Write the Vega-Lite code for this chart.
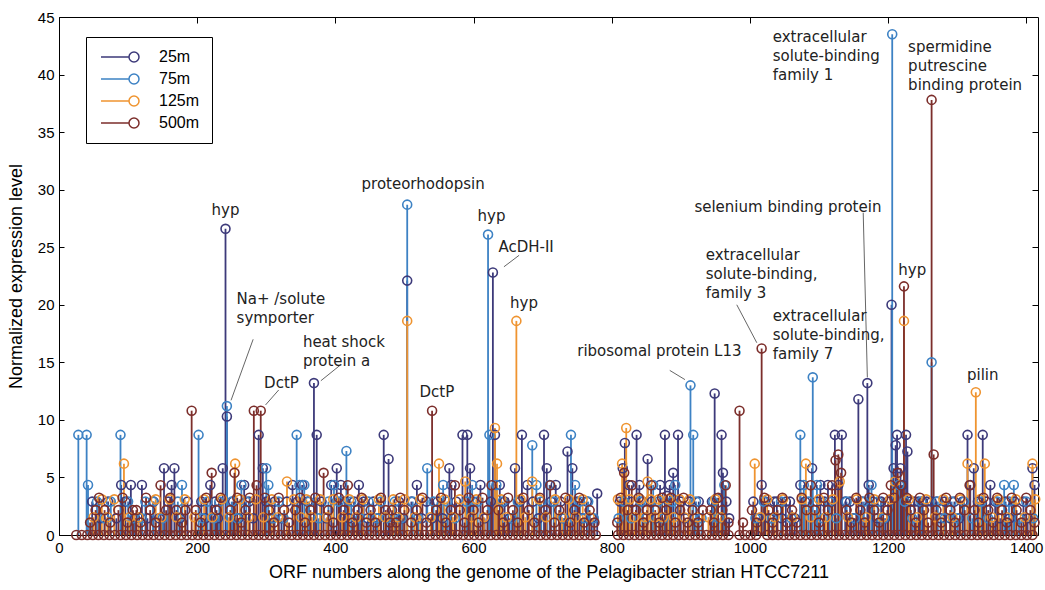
{
"$schema":"https://vega.github.io/schema/vega-lite/v6.json",
"width":979,"height":518,
"autosize":{"type":"none"},
"padding":{"left":59,"top":17,"right":7,"bottom":55},
"background":"white",
"config":{
 "view":{"stroke":"black","strokeWidth":1},
 "axis":{"grid":false,"domainColor":"black","tickColor":"black","labelColor":"black","titleColor":"black","labelFont":"Liberation Sans","titleFont":"Liberation Sans","labelFontSize":15,"titleFontSize":18,"titleFontWeight":"normal","tickSize":-5}
},
"datasets":{
"stems":[
{"orf":48,"level":2.9,"depth":"25m"},{"orf":60,"level":1.45,"depth":"25m"},{"orf":71,"level":2.9,"depth":"25m"},{"orf":83,"level":1.45,"depth":"25m"},{"orf":90,"level":4.35,"depth":"25m"},{"orf":96,"level":2.9,"depth":"25m"},{"orf":104,"level":4.35,"depth":"25m"},{"orf":110,"level":1.45,"depth":"25m"},{"orf":120,"level":4.35,"depth":"25m"},{"orf":128,"level":1.45,"depth":"25m"},{"orf":137,"level":2.9,"depth":"25m"},{"orf":145,"level":1.45,"depth":"25m"},{"orf":152,"level":5.8,"depth":"25m"},{"orf":158,"level":2.9,"depth":"25m"},{"orf":163,"level":4.35,"depth":"25m"},{"orf":167,"level":5.8,"depth":"25m"},{"orf":175,"level":1.45,"depth":"25m"},{"orf":186,"level":2.9,"depth":"25m"},{"orf":206,"level":2.9,"depth":"25m"},{"orf":212,"level":1.45,"depth":"25m"},{"orf":219,"level":4.35,"depth":"25m"},{"orf":226,"level":2.9,"depth":"25m"},{"orf":230,"level":1.45,"depth":"25m"},{"orf":237,"level":5.8,"depth":"25m"},{"orf":241,"level":26.6,"depth":"25m"},{"orf":243,"level":10.3,"depth":"25m"},{"orf":252,"level":2.9,"depth":"25m"},{"orf":260,"level":1.45,"depth":"25m"},{"orf":268,"level":4.35,"depth":"25m"},{"orf":275,"level":2.9,"depth":"25m"},{"orf":281,"level":1.45,"depth":"25m"},{"orf":289,"level":8.7,"depth":"25m"},{"orf":295,"level":5.8,"depth":"25m"},{"orf":300,"level":2.9,"depth":"25m"},{"orf":306,"level":1.45,"depth":"25m"},{"orf":312,"level":2.9,"depth":"25m"},{"orf":322,"level":1.45,"depth":"25m"},{"orf":330,"level":2.9,"depth":"25m"},{"orf":338,"level":4.35,"depth":"25m"},{"orf":345,"level":2.9,"depth":"25m"},{"orf":352,"level":4.35,"depth":"25m"},{"orf":360,"level":2.9,"depth":"25m"},{"orf":369,"level":13.2,"depth":"25m"},{"orf":373,"level":8.7,"depth":"25m"},{"orf":380,"level":2.9,"depth":"25m"},{"orf":387,"level":1.45,"depth":"25m"},{"orf":394,"level":4.35,"depth":"25m"},{"orf":402,"level":5.8,"depth":"25m"},{"orf":408,"level":4.35,"depth":"25m"},{"orf":414,"level":2.9,"depth":"25m"},{"orf":420,"level":1.45,"depth":"25m"},{"orf":427,"level":2.9,"depth":"25m"},{"orf":434,"level":4.35,"depth":"25m"},{"orf":441,"level":2.9,"depth":"25m"},{"orf":447,"level":1.45,"depth":"25m"},{"orf":455,"level":2.9,"depth":"25m"},{"orf":462,"level":1.45,"depth":"25m"},{"orf":470,"level":8.7,"depth":"25m"},{"orf":477,"level":6.6,"depth":"25m"},{"orf":485,"level":1.45,"depth":"25m"},{"orf":492,"level":2.9,"depth":"25m"},{"orf":498,"level":1.45,"depth":"25m"},{"orf":504,"level":22.1,"depth":"25m"},{"orf":510,"level":2.9,"depth":"25m"},{"orf":518,"level":4.35,"depth":"25m"},{"orf":525,"level":1.45,"depth":"25m"},{"orf":532,"level":2.9,"depth":"25m"},{"orf":540,"level":1.45,"depth":"25m"},{"orf":548,"level":2.9,"depth":"25m"},{"orf":555,"level":1.45,"depth":"25m"},{"orf":565,"level":5.8,"depth":"25m"},{"orf":568,"level":4.35,"depth":"25m"},{"orf":575,"level":2.9,"depth":"25m"},{"orf":584,"level":8.7,"depth":"25m"},{"orf":591,"level":8.7,"depth":"25m"},{"orf":595,"level":5.8,"depth":"25m"},{"orf":600,"level":2.9,"depth":"25m"},{"orf":610,"level":4.35,"depth":"25m"},{"orf":616,"level":1.45,"depth":"25m"},{"orf":625,"level":2.9,"depth":"25m"},{"orf":628,"level":22.8,"depth":"25m"},{"orf":631,"level":8.7,"depth":"25m"},{"orf":638,"level":4.35,"depth":"25m"},{"orf":645,"level":2.9,"depth":"25m"},{"orf":652,"level":1.45,"depth":"25m"},{"orf":660,"level":5.8,"depth":"25m"},{"orf":667,"level":2.9,"depth":"25m"},{"orf":670,"level":8.7,"depth":"25m"},{"orf":678,"level":4.35,"depth":"25m"},{"orf":686,"level":2.9,"depth":"25m"},{"orf":694,"level":1.45,"depth":"25m"},{"orf":702,"level":8.7,"depth":"25m"},{"orf":706,"level":5.8,"depth":"25m"},{"orf":712,"level":2.9,"depth":"25m"},{"orf":719,"level":4.35,"depth":"25m"},{"orf":726,"level":2.9,"depth":"25m"},{"orf":731,"level":1.45,"depth":"25m"},{"orf":736,"level":7.25,"depth":"25m"},{"orf":743,"level":5.8,"depth":"25m"},{"orf":750,"level":2.9,"depth":"25m"},{"orf":757,"level":1.45,"depth":"25m"},{"orf":764,"level":2.9,"depth":"25m"},{"orf":771,"level":1.45,"depth":"25m"},{"orf":779,"level":3.6,"depth":"25m"},{"orf":812,"level":2.9,"depth":"25m"},{"orf":816,"level":5.8,"depth":"25m"},{"orf":819,"level":8.0,"depth":"25m"},{"orf":825,"level":4.35,"depth":"25m"},{"orf":830,"level":2.9,"depth":"25m"},{"orf":836,"level":8.7,"depth":"25m"},{"orf":840,"level":4.35,"depth":"25m"},{"orf":845,"level":2.9,"depth":"25m"},{"orf":852,"level":6.6,"depth":"25m"},{"orf":858,"level":2.9,"depth":"25m"},{"orf":864,"level":1.45,"depth":"25m"},{"orf":870,"level":4.35,"depth":"25m"},{"orf":877,"level":8.7,"depth":"25m"},{"orf":880,"level":3.4,"depth":"25m"},{"orf":884,"level":4.35,"depth":"25m"},{"orf":889,"level":5.4,"depth":"25m"},{"orf":896,"level":8.7,"depth":"25m"},{"orf":900,"level":2.9,"depth":"25m"},{"orf":906,"level":1.45,"depth":"25m"},{"orf":912,"level":2.9,"depth":"25m"},{"orf":920,"level":1.45,"depth":"25m"},{"orf":926,"level":2.9,"depth":"25m"},{"orf":945,"level":2.9,"depth":"25m"},{"orf":949,"level":12.3,"depth":"25m"},{"orf":952,"level":3.2,"depth":"25m"},{"orf":959,"level":8.7,"depth":"25m"},{"orf":961,"level":5.4,"depth":"25m"},{"orf":966,"level":2.9,"depth":"25m"},{"orf":970,"level":1.45,"depth":"25m"},{"orf":1005,"level":2.9,"depth":"25m"},{"orf":1012,"level":1.45,"depth":"25m"},{"orf":1017,"level":4.35,"depth":"25m"},{"orf":1022,"level":2.9,"depth":"25m"},{"orf":1028,"level":1.45,"depth":"25m"},{"orf":1035,"level":2.9,"depth":"25m"},{"orf":1039,"level":2.9,"depth":"25m"},{"orf":1046,"level":1.45,"depth":"25m"},{"orf":1052,"level":2.9,"depth":"25m"},{"orf":1058,"level":2.9,"depth":"25m"},{"orf":1065,"level":1.45,"depth":"25m"},{"orf":1073,"level":4.35,"depth":"25m"},{"orf":1080,"level":2.9,"depth":"25m"},{"orf":1090,"level":5.8,"depth":"25m"},{"orf":1097,"level":2.9,"depth":"25m"},{"orf":1102,"level":4.35,"depth":"25m"},{"orf":1108,"level":2.9,"depth":"25m"},{"orf":1113,"level":4.35,"depth":"25m"},{"orf":1118,"level":2.9,"depth":"25m"},{"orf":1123,"level":8.7,"depth":"25m"},{"orf":1128,"level":4.35,"depth":"25m"},{"orf":1133,"level":8.7,"depth":"25m"},{"orf":1138,"level":2.9,"depth":"25m"},{"orf":1145,"level":2.9,"depth":"25m"},{"orf":1150,"level":1.45,"depth":"25m"},{"orf":1157,"level":11.8,"depth":"25m"},{"orf":1162,"level":2.9,"depth":"25m"},{"orf":1170,"level":13.2,"depth":"25m"},{"orf":1172,"level":4.35,"depth":"25m"},{"orf":1178,"level":2.9,"depth":"25m"},{"orf":1184,"level":1.45,"depth":"25m"},{"orf":1190,"level":2.9,"depth":"25m"},{"orf":1196,"level":1.45,"depth":"25m"},{"orf":1200,"level":2.9,"depth":"25m"},{"orf":1205,"level":20.0,"depth":"25m"},{"orf":1208,"level":5.8,"depth":"25m"},{"orf":1211,"level":7.8,"depth":"25m"},{"orf":1213,"level":8.7,"depth":"25m"},{"orf":1218,"level":5.8,"depth":"25m"},{"orf":1221,"level":4.35,"depth":"25m"},{"orf":1226,"level":8.7,"depth":"25m"},{"orf":1228,"level":7.25,"depth":"25m"},{"orf":1232,"level":2.9,"depth":"25m"},{"orf":1238,"level":2.9,"depth":"25m"},{"orf":1244,"level":2.9,"depth":"25m"},{"orf":1250,"level":2.9,"depth":"25m"},{"orf":1256,"level":2.9,"depth":"25m"},{"orf":1263,"level":2.9,"depth":"25m"},{"orf":1270,"level":2.9,"depth":"25m"},{"orf":1276,"level":1.45,"depth":"25m"},{"orf":1282,"level":2.9,"depth":"25m"},{"orf":1290,"level":1.45,"depth":"25m"},{"orf":1296,"level":2.9,"depth":"25m"},{"orf":1303,"level":1.45,"depth":"25m"},{"orf":1308,"level":2.9,"depth":"25m"},{"orf":1315,"level":8.7,"depth":"25m"},{"orf":1319,"level":4.35,"depth":"25m"},{"orf":1324,"level":5.8,"depth":"25m"},{"orf":1330,"level":2.9,"depth":"25m"},{"orf":1337,"level":8.7,"depth":"25m"},{"orf":1342,"level":2.9,"depth":"25m"},{"orf":1348,"level":4.35,"depth":"25m"},{"orf":1355,"level":2.9,"depth":"25m"},{"orf":1362,"level":1.45,"depth":"25m"},{"orf":1370,"level":2.9,"depth":"25m"},{"orf":1376,"level":1.45,"depth":"25m"},{"orf":1383,"level":2.9,"depth":"25m"},{"orf":1390,"level":1.45,"depth":"25m"},{"orf":1396,"level":2.9,"depth":"25m"},{"orf":1402,"level":1.45,"depth":"25m"},{"orf":1409,"level":5.8,"depth":"25m"},{"orf":1412,"level":4.35,"depth":"25m"},
{"orf":28,"level":8.7,"depth":"75m"},{"orf":40,"level":8.7,"depth":"75m"},{"orf":42,"level":4.35,"depth":"75m"},{"orf":55,"level":2.9,"depth":"75m"},{"orf":66,"level":1.45,"depth":"75m"},{"orf":75,"level":2.9,"depth":"75m"},{"orf":89,"level":8.7,"depth":"75m"},{"orf":100,"level":2.9,"depth":"75m"},{"orf":108,"level":1.45,"depth":"75m"},{"orf":120,"level":1.45,"depth":"75m"},{"orf":125,"level":2.9,"depth":"75m"},{"orf":136,"level":2.9,"depth":"75m"},{"orf":150,"level":1.45,"depth":"75m"},{"orf":172,"level":2.9,"depth":"75m"},{"orf":178,"level":4.35,"depth":"75m"},{"orf":202,"level":8.7,"depth":"75m"},{"orf":208,"level":1.45,"depth":"75m"},{"orf":215,"level":2.9,"depth":"75m"},{"orf":224,"level":1.45,"depth":"75m"},{"orf":232,"level":2.9,"depth":"75m"},{"orf":243,"level":11.2,"depth":"75m"},{"orf":250,"level":2.9,"depth":"75m"},{"orf":258,"level":1.45,"depth":"75m"},{"orf":264,"level":4.35,"depth":"75m"},{"orf":271,"level":2.9,"depth":"75m"},{"orf":300,"level":5.8,"depth":"75m"},{"orf":303,"level":4.35,"depth":"75m"},{"orf":310,"level":1.45,"depth":"75m"},{"orf":318,"level":2.9,"depth":"75m"},{"orf":325,"level":1.45,"depth":"75m"},{"orf":344,"level":8.7,"depth":"75m"},{"orf":348,"level":4.35,"depth":"75m"},{"orf":355,"level":4.35,"depth":"75m"},{"orf":362,"level":2.9,"depth":"75m"},{"orf":376,"level":1.45,"depth":"75m"},{"orf":390,"level":2.9,"depth":"75m"},{"orf":398,"level":4.35,"depth":"75m"},{"orf":405,"level":2.9,"depth":"75m"},{"orf":416,"level":7.3,"depth":"75m"},{"orf":423,"level":2.9,"depth":"75m"},{"orf":436,"level":1.45,"depth":"75m"},{"orf":448,"level":2.9,"depth":"75m"},{"orf":460,"level":1.45,"depth":"75m"},{"orf":466,"level":2.9,"depth":"75m"},{"orf":474,"level":1.45,"depth":"75m"},{"orf":486,"level":2.9,"depth":"75m"},{"orf":495,"level":1.45,"depth":"75m"},{"orf":504,"level":28.7,"depth":"75m"},{"orf":512,"level":2.9,"depth":"75m"},{"orf":520,"level":1.45,"depth":"75m"},{"orf":533,"level":5.8,"depth":"75m"},{"orf":542,"level":2.9,"depth":"75m"},{"orf":556,"level":4.35,"depth":"75m"},{"orf":562,"level":2.9,"depth":"75m"},{"orf":573,"level":1.45,"depth":"75m"},{"orf":590,"level":2.9,"depth":"75m"},{"orf":598,"level":4.35,"depth":"75m"},{"orf":606,"level":2.9,"depth":"75m"},{"orf":621,"level":26.1,"depth":"75m"},{"orf":623,"level":8.7,"depth":"75m"},{"orf":633,"level":4.35,"depth":"75m"},{"orf":642,"level":2.9,"depth":"75m"},{"orf":655,"level":1.45,"depth":"75m"},{"orf":664,"level":2.9,"depth":"75m"},{"orf":685,"level":7.8,"depth":"75m"},{"orf":691,"level":4.35,"depth":"75m"},{"orf":698,"level":2.9,"depth":"75m"},{"orf":710,"level":4.35,"depth":"75m"},{"orf":716,"level":2.9,"depth":"75m"},{"orf":730,"level":1.45,"depth":"75m"},{"orf":741,"level":8.7,"depth":"75m"},{"orf":747,"level":4.35,"depth":"75m"},{"orf":754,"level":2.9,"depth":"75m"},{"orf":760,"level":1.45,"depth":"75m"},{"orf":766,"level":2.9,"depth":"75m"},{"orf":774,"level":1.45,"depth":"75m"},{"orf":810,"level":1.45,"depth":"75m"},{"orf":818,"level":2.9,"depth":"75m"},{"orf":828,"level":1.45,"depth":"75m"},{"orf":842,"level":2.9,"depth":"75m"},{"orf":850,"level":1.45,"depth":"75m"},{"orf":860,"level":4.35,"depth":"75m"},{"orf":868,"level":2.9,"depth":"75m"},{"orf":875,"level":1.45,"depth":"75m"},{"orf":887,"level":2.9,"depth":"75m"},{"orf":892,"level":4.35,"depth":"75m"},{"orf":914,"level":13.0,"depth":"75m"},{"orf":918,"level":8.7,"depth":"75m"},{"orf":922,"level":2.9,"depth":"75m"},{"orf":930,"level":1.45,"depth":"75m"},{"orf":947,"level":2.9,"depth":"75m"},{"orf":955,"level":1.45,"depth":"75m"},{"orf":963,"level":4.35,"depth":"75m"},{"orf":1008,"level":1.45,"depth":"75m"},{"orf":1020,"level":2.9,"depth":"75m"},{"orf":1032,"level":1.45,"depth":"75m"},{"orf":1045,"level":2.9,"depth":"75m"},{"orf":1060,"level":1.45,"depth":"75m"},{"orf":1073,"level":8.7,"depth":"75m"},{"orf":1078,"level":4.35,"depth":"75m"},{"orf":1085,"level":2.9,"depth":"75m"},{"orf":1091,"level":13.7,"depth":"75m"},{"orf":1097,"level":4.35,"depth":"75m"},{"orf":1106,"level":1.45,"depth":"75m"},{"orf":1115,"level":2.9,"depth":"75m"},{"orf":1125,"level":1.45,"depth":"75m"},{"orf":1140,"level":2.9,"depth":"75m"},{"orf":1152,"level":1.45,"depth":"75m"},{"orf":1165,"level":2.9,"depth":"75m"},{"orf":1176,"level":4.35,"depth":"75m"},{"orf":1185,"level":2.9,"depth":"75m"},{"orf":1194,"level":1.45,"depth":"75m"},{"orf":1206,"level":43.5,"depth":"75m"},{"orf":1216,"level":4.35,"depth":"75m"},{"orf":1224,"level":2.9,"depth":"75m"},{"orf":1235,"level":1.45,"depth":"75m"},{"orf":1248,"level":2.9,"depth":"75m"},{"orf":1263,"level":15.0,"depth":"75m"},{"orf":1272,"level":2.9,"depth":"75m"},{"orf":1282,"level":1.45,"depth":"75m"},{"orf":1292,"level":2.9,"depth":"75m"},{"orf":1300,"level":1.45,"depth":"75m"},{"orf":1310,"level":2.9,"depth":"75m"},{"orf":1322,"level":1.45,"depth":"75m"},{"orf":1335,"level":2.9,"depth":"75m"},{"orf":1345,"level":1.45,"depth":"75m"},{"orf":1358,"level":2.9,"depth":"75m"},{"orf":1368,"level":4.35,"depth":"75m"},{"orf":1375,"level":2.9,"depth":"75m"},{"orf":1382,"level":4.35,"depth":"75m"},{"orf":1390,"level":1.45,"depth":"75m"},{"orf":1400,"level":2.9,"depth":"75m"},{"orf":1410,"level":1.45,"depth":"75m"},
{"orf":50,"level":1.55,"depth":"125m"},{"orf":62,"level":3.1,"depth":"125m"},{"orf":70,"level":1.55,"depth":"125m"},{"orf":80,"level":3.1,"depth":"125m"},{"orf":94,"level":6.2,"depth":"125m"},{"orf":102,"level":1.55,"depth":"125m"},{"orf":115,"level":1.55,"depth":"125m"},{"orf":140,"level":3.1,"depth":"125m"},{"orf":148,"level":1.55,"depth":"125m"},{"orf":160,"level":3.1,"depth":"125m"},{"orf":170,"level":1.55,"depth":"125m"},{"orf":182,"level":3.1,"depth":"125m"},{"orf":196,"level":1.55,"depth":"125m"},{"orf":210,"level":3.1,"depth":"125m"},{"orf":222,"level":1.55,"depth":"125m"},{"orf":236,"level":3.1,"depth":"125m"},{"orf":246,"level":1.55,"depth":"125m"},{"orf":255,"level":6.2,"depth":"125m"},{"orf":262,"level":3.1,"depth":"125m"},{"orf":274,"level":1.55,"depth":"125m"},{"orf":285,"level":3.1,"depth":"125m"},{"orf":296,"level":1.55,"depth":"125m"},{"orf":308,"level":3.1,"depth":"125m"},{"orf":317,"level":1.55,"depth":"125m"},{"orf":330,"level":4.65,"depth":"125m"},{"orf":340,"level":3.1,"depth":"125m"},{"orf":350,"level":1.55,"depth":"125m"},{"orf":358,"level":3.1,"depth":"125m"},{"orf":366,"level":1.55,"depth":"125m"},{"orf":378,"level":3.1,"depth":"125m"},{"orf":388,"level":1.55,"depth":"125m"},{"orf":397,"level":3.1,"depth":"125m"},{"orf":410,"level":1.55,"depth":"125m"},{"orf":420,"level":3.1,"depth":"125m"},{"orf":430,"level":1.55,"depth":"125m"},{"orf":440,"level":3.1,"depth":"125m"},{"orf":452,"level":1.55,"depth":"125m"},{"orf":463,"level":3.1,"depth":"125m"},{"orf":472,"level":1.55,"depth":"125m"},{"orf":484,"level":3.1,"depth":"125m"},{"orf":490,"level":1.55,"depth":"125m"},{"orf":500,"level":3.1,"depth":"125m"},{"orf":504,"level":18.6,"depth":"125m"},{"orf":515,"level":1.55,"depth":"125m"},{"orf":523,"level":3.1,"depth":"125m"},{"orf":538,"level":1.55,"depth":"125m"},{"orf":550,"level":6.2,"depth":"125m"},{"orf":558,"level":3.1,"depth":"125m"},{"orf":570,"level":1.55,"depth":"125m"},{"orf":580,"level":3.1,"depth":"125m"},{"orf":588,"level":4.65,"depth":"125m"},{"orf":597,"level":1.55,"depth":"125m"},{"orf":604,"level":3.1,"depth":"125m"},{"orf":615,"level":1.55,"depth":"125m"},{"orf":631,"level":9.3,"depth":"125m"},{"orf":634,"level":6.2,"depth":"125m"},{"orf":640,"level":3.1,"depth":"125m"},{"orf":648,"level":1.55,"depth":"125m"},{"orf":662,"level":18.6,"depth":"125m"},{"orf":668,"level":3.1,"depth":"125m"},{"orf":675,"level":1.55,"depth":"125m"},{"orf":685,"level":4.65,"depth":"125m"},{"orf":695,"level":3.1,"depth":"125m"},{"orf":705,"level":1.55,"depth":"125m"},{"orf":718,"level":3.1,"depth":"125m"},{"orf":728,"level":1.55,"depth":"125m"},{"orf":738,"level":3.1,"depth":"125m"},{"orf":748,"level":1.55,"depth":"125m"},{"orf":758,"level":3.1,"depth":"125m"},{"orf":768,"level":1.55,"depth":"125m"},{"orf":809,"level":3.1,"depth":"125m"},{"orf":815,"level":6.2,"depth":"125m"},{"orf":821,"level":9.3,"depth":"125m"},{"orf":826,"level":3.1,"depth":"125m"},{"orf":833,"level":1.55,"depth":"125m"},{"orf":841,"level":3.1,"depth":"125m"},{"orf":848,"level":1.55,"depth":"125m"},{"orf":852,"level":4.65,"depth":"125m"},{"orf":856,"level":3.1,"depth":"125m"},{"orf":862,"level":1.55,"depth":"125m"},{"orf":868,"level":3.1,"depth":"125m"},{"orf":874,"level":1.55,"depth":"125m"},{"orf":882,"level":3.1,"depth":"125m"},{"orf":890,"level":1.55,"depth":"125m"},{"orf":898,"level":3.1,"depth":"125m"},{"orf":905,"level":1.55,"depth":"125m"},{"orf":913,"level":3.1,"depth":"125m"},{"orf":924,"level":1.55,"depth":"125m"},{"orf":940,"level":1.55,"depth":"125m"},{"orf":950,"level":3.1,"depth":"125m"},{"orf":958,"level":1.55,"depth":"125m"},{"orf":1007,"level":6.2,"depth":"125m"},{"orf":1015,"level":1.55,"depth":"125m"},{"orf":1025,"level":3.1,"depth":"125m"},{"orf":1036,"level":1.55,"depth":"125m"},{"orf":1048,"level":3.1,"depth":"125m"},{"orf":1062,"level":1.55,"depth":"125m"},{"orf":1075,"level":3.1,"depth":"125m"},{"orf":1081,"level":6.2,"depth":"125m"},{"orf":1088,"level":1.55,"depth":"125m"},{"orf":1100,"level":3.1,"depth":"125m"},{"orf":1110,"level":1.55,"depth":"125m"},{"orf":1120,"level":3.1,"depth":"125m"},{"orf":1130,"level":4.65,"depth":"125m"},{"orf":1142,"level":1.55,"depth":"125m"},{"orf":1155,"level":3.1,"depth":"125m"},{"orf":1168,"level":1.55,"depth":"125m"},{"orf":1180,"level":3.1,"depth":"125m"},{"orf":1192,"level":1.55,"depth":"125m"},{"orf":1203,"level":3.1,"depth":"125m"},{"orf":1210,"level":4.65,"depth":"125m"},{"orf":1223,"level":18.6,"depth":"125m"},{"orf":1230,"level":3.1,"depth":"125m"},{"orf":1242,"level":1.55,"depth":"125m"},{"orf":1255,"level":3.1,"depth":"125m"},{"orf":1268,"level":1.55,"depth":"125m"},{"orf":1280,"level":3.1,"depth":"125m"},{"orf":1293,"level":1.55,"depth":"125m"},{"orf":1305,"level":3.1,"depth":"125m"},{"orf":1315,"level":6.2,"depth":"125m"},{"orf":1327,"level":12.4,"depth":"125m"},{"orf":1333,"level":3.1,"depth":"125m"},{"orf":1340,"level":6.2,"depth":"125m"},{"orf":1350,"level":1.55,"depth":"125m"},{"orf":1360,"level":3.1,"depth":"125m"},{"orf":1372,"level":1.55,"depth":"125m"},{"orf":1385,"level":3.1,"depth":"125m"},{"orf":1398,"level":1.55,"depth":"125m"},{"orf":1409,"level":6.2,"depth":"125m"},{"orf":1413,"level":3.1,"depth":"125m"},
{"orf":45,"level":1.08,"depth":"500m"},{"orf":53,"level":2.16,"depth":"500m"},{"orf":58,"level":3.24,"depth":"500m"},{"orf":66,"level":2.16,"depth":"500m"},{"orf":74,"level":1.08,"depth":"500m"},{"orf":86,"level":2.16,"depth":"500m"},{"orf":92,"level":3.24,"depth":"500m"},{"orf":99,"level":1.08,"depth":"500m"},{"orf":107,"level":2.16,"depth":"500m"},{"orf":112,"level":2.16,"depth":"500m"},{"orf":118,"level":1.08,"depth":"500m"},{"orf":126,"level":3.24,"depth":"500m"},{"orf":132,"level":2.16,"depth":"500m"},{"orf":140,"level":1.08,"depth":"500m"},{"orf":147,"level":4.32,"depth":"500m"},{"orf":155,"level":2.16,"depth":"500m"},{"orf":161,"level":3.24,"depth":"500m"},{"orf":170,"level":2.16,"depth":"500m"},{"orf":178,"level":1.08,"depth":"500m"},{"orf":183,"level":2.16,"depth":"500m"},{"orf":192,"level":10.8,"depth":"500m"},{"orf":198,"level":2.16,"depth":"500m"},{"orf":205,"level":1.08,"depth":"500m"},{"orf":213,"level":3.24,"depth":"500m"},{"orf":221,"level":5.4,"depth":"500m"},{"orf":228,"level":2.16,"depth":"500m"},{"orf":234,"level":3.24,"depth":"500m"},{"orf":248,"level":2.16,"depth":"500m"},{"orf":254,"level":5.4,"depth":"500m"},{"orf":258,"level":3.24,"depth":"500m"},{"orf":264,"level":1.08,"depth":"500m"},{"orf":270,"level":2.16,"depth":"500m"},{"orf":276,"level":3.24,"depth":"500m"},{"orf":282,"level":10.8,"depth":"500m"},{"orf":286,"level":4.32,"depth":"500m"},{"orf":292,"level":10.8,"depth":"500m"},{"orf":298,"level":3.24,"depth":"500m"},{"orf":304,"level":2.16,"depth":"500m"},{"orf":311,"level":1.08,"depth":"500m"},{"orf":318,"level":3.24,"depth":"500m"},{"orf":326,"level":2.16,"depth":"500m"},{"orf":333,"level":1.08,"depth":"500m"},{"orf":342,"level":2.16,"depth":"500m"},{"orf":349,"level":3.24,"depth":"500m"},{"orf":356,"level":1.08,"depth":"500m"},{"orf":364,"level":2.16,"depth":"500m"},{"orf":371,"level":3.24,"depth":"500m"},{"orf":383,"level":5.4,"depth":"500m"},{"orf":390,"level":2.16,"depth":"500m"},{"orf":397,"level":1.08,"depth":"500m"},{"orf":405,"level":3.24,"depth":"500m"},{"orf":412,"level":2.16,"depth":"500m"},{"orf":418,"level":4.32,"depth":"500m"},{"orf":425,"level":1.08,"depth":"500m"},{"orf":432,"level":2.16,"depth":"500m"},{"orf":438,"level":3.24,"depth":"500m"},{"orf":445,"level":1.08,"depth":"500m"},{"orf":451,"level":2.16,"depth":"500m"},{"orf":458,"level":1.08,"depth":"500m"},{"orf":466,"level":3.24,"depth":"500m"},{"orf":473,"level":2.16,"depth":"500m"},{"orf":479,"level":1.08,"depth":"500m"},{"orf":482,"level":2.16,"depth":"500m"},{"orf":488,"level":1.08,"depth":"500m"},{"orf":494,"level":3.24,"depth":"500m"},{"orf":500,"level":2.16,"depth":"500m"},{"orf":510,"level":1.08,"depth":"500m"},{"orf":518,"level":2.16,"depth":"500m"},{"orf":526,"level":3.24,"depth":"500m"},{"orf":532,"level":1.08,"depth":"500m"},{"orf":540,"level":10.8,"depth":"500m"},{"orf":546,"level":2.16,"depth":"500m"},{"orf":553,"level":3.24,"depth":"500m"},{"orf":560,"level":1.08,"depth":"500m"},{"orf":567,"level":2.16,"depth":"500m"},{"orf":573,"level":4.32,"depth":"500m"},{"orf":580,"level":2.16,"depth":"500m"},{"orf":587,"level":1.08,"depth":"500m"},{"orf":593,"level":3.24,"depth":"500m"},{"orf":600,"level":2.16,"depth":"500m"},{"orf":607,"level":1.08,"depth":"500m"},{"orf":613,"level":3.24,"depth":"500m"},{"orf":620,"level":2.16,"depth":"500m"},{"orf":626,"level":4.32,"depth":"500m"},{"orf":636,"level":2.16,"depth":"500m"},{"orf":643,"level":1.08,"depth":"500m"},{"orf":650,"level":3.24,"depth":"500m"},{"orf":657,"level":2.16,"depth":"500m"},{"orf":664,"level":1.08,"depth":"500m"},{"orf":672,"level":3.24,"depth":"500m"},{"orf":680,"level":2.16,"depth":"500m"},{"orf":688,"level":1.08,"depth":"500m"},{"orf":696,"level":3.24,"depth":"500m"},{"orf":704,"level":2.16,"depth":"500m"},{"orf":711,"level":4.32,"depth":"500m"},{"orf":717,"level":1.08,"depth":"500m"},{"orf":724,"level":2.16,"depth":"500m"},{"orf":733,"level":3.24,"depth":"500m"},{"orf":740,"level":1.08,"depth":"500m"},{"orf":746,"level":2.16,"depth":"500m"},{"orf":753,"level":3.24,"depth":"500m"},{"orf":760,"level":1.08,"depth":"500m"},{"orf":768,"level":2.16,"depth":"500m"},{"orf":775,"level":1.08,"depth":"500m"},{"orf":808,"level":1.08,"depth":"500m"},{"orf":813,"level":3.24,"depth":"500m"},{"orf":818,"level":5.4,"depth":"500m"},{"orf":823,"level":2.16,"depth":"500m"},{"orf":829,"level":4.32,"depth":"500m"},{"orf":835,"level":2.16,"depth":"500m"},{"orf":839,"level":3.24,"depth":"500m"},{"orf":846,"level":1.08,"depth":"500m"},{"orf":851,"level":2.16,"depth":"500m"},{"orf":857,"level":4.32,"depth":"500m"},{"orf":863,"level":2.16,"depth":"500m"},{"orf":869,"level":1.08,"depth":"500m"},{"orf":873,"level":3.24,"depth":"500m"},{"orf":879,"level":2.16,"depth":"500m"},{"orf":886,"level":3.24,"depth":"500m"},{"orf":892,"level":1.08,"depth":"500m"},{"orf":899,"level":2.16,"depth":"500m"},{"orf":904,"level":3.24,"depth":"500m"},{"orf":910,"level":1.08,"depth":"500m"},{"orf":917,"level":2.16,"depth":"500m"},{"orf":925,"level":1.08,"depth":"500m"},{"orf":932,"level":2.16,"depth":"500m"},{"orf":943,"level":2.16,"depth":"500m"},{"orf":948,"level":1.08,"depth":"500m"},{"orf":954,"level":3.24,"depth":"500m"},{"orf":960,"level":2.16,"depth":"500m"},{"orf":965,"level":4.32,"depth":"500m"},{"orf":969,"level":1.08,"depth":"500m"},{"orf":985,"level":10.8,"depth":"500m"},{"orf":990,"level":1.08,"depth":"500m"},{"orf":1003,"level":2.16,"depth":"500m"},{"orf":1010,"level":1.08,"depth":"500m"},{"orf":1017,"level":16.2,"depth":"500m"},{"orf":1021,"level":3.24,"depth":"500m"},{"orf":1027,"level":2.16,"depth":"500m"},{"orf":1033,"level":1.08,"depth":"500m"},{"orf":1040,"level":2.16,"depth":"500m"},{"orf":1047,"level":3.24,"depth":"500m"},{"orf":1054,"level":1.08,"depth":"500m"},{"orf":1061,"level":2.16,"depth":"500m"},{"orf":1068,"level":1.08,"depth":"500m"},{"orf":1075,"level":3.24,"depth":"500m"},{"orf":1082,"level":2.16,"depth":"500m"},{"orf":1088,"level":4.32,"depth":"500m"},{"orf":1094,"level":2.16,"depth":"500m"},{"orf":1100,"level":1.08,"depth":"500m"},{"orf":1107,"level":3.24,"depth":"500m"},{"orf":1113,"level":2.16,"depth":"500m"},{"orf":1119,"level":4.32,"depth":"500m"},{"orf":1124,"level":6.5,"depth":"500m"},{"orf":1128,"level":7.0,"depth":"500m"},{"orf":1132,"level":5.4,"depth":"500m"},{"orf":1140,"level":2.16,"depth":"500m"},{"orf":1147,"level":1.08,"depth":"500m"},{"orf":1154,"level":3.24,"depth":"500m"},{"orf":1160,"level":2.16,"depth":"500m"},{"orf":1166,"level":1.08,"depth":"500m"},{"orf":1173,"level":3.24,"depth":"500m"},{"orf":1180,"level":2.16,"depth":"500m"},{"orf":1187,"level":1.08,"depth":"500m"},{"orf":1193,"level":3.24,"depth":"500m"},{"orf":1199,"level":2.16,"depth":"500m"},{"orf":1204,"level":4.32,"depth":"500m"},{"orf":1209,"level":3.24,"depth":"500m"},{"orf":1214,"level":5.4,"depth":"500m"},{"orf":1219,"level":4.32,"depth":"500m"},{"orf":1223,"level":21.6,"depth":"500m"},{"orf":1227,"level":3.24,"depth":"500m"},{"orf":1233,"level":2.16,"depth":"500m"},{"orf":1240,"level":1.08,"depth":"500m"},{"orf":1246,"level":3.24,"depth":"500m"},{"orf":1252,"level":2.16,"depth":"500m"},{"orf":1258,"level":1.08,"depth":"500m"},{"orf":1263,"level":37.8,"depth":"500m"},{"orf":1266,"level":7.0,"depth":"500m"},{"orf":1270,"level":2.16,"depth":"500m"},{"orf":1277,"level":1.08,"depth":"500m"},{"orf":1284,"level":3.24,"depth":"500m"},{"orf":1290,"level":2.16,"depth":"500m"},{"orf":1297,"level":1.08,"depth":"500m"},{"orf":1304,"level":3.24,"depth":"500m"},{"orf":1311,"level":2.16,"depth":"500m"},{"orf":1318,"level":4.32,"depth":"500m"},{"orf":1325,"level":2.16,"depth":"500m"},{"orf":1331,"level":1.08,"depth":"500m"},{"orf":1338,"level":3.24,"depth":"500m"},{"orf":1345,"level":2.16,"depth":"500m"},{"orf":1352,"level":1.08,"depth":"500m"},{"orf":1358,"level":3.24,"depth":"500m"},{"orf":1365,"level":2.16,"depth":"500m"},{"orf":1372,"level":1.08,"depth":"500m"},{"orf":1379,"level":3.24,"depth":"500m"},{"orf":1386,"level":2.16,"depth":"500m"},{"orf":1393,"level":1.08,"depth":"500m"},{"orf":1400,"level":3.24,"depth":"500m"},{"orf":1406,"level":2.16,"depth":"500m"},{"orf":1412,"level":1.08,"depth":"500m"},
{"orf":25,"level":0,"depth":"500m"},{"orf":33,"level":0,"depth":"500m"},{"orf":41,"level":0,"depth":"500m"},{"orf":49,"level":0,"depth":"500m"},{"orf":57,"level":0,"depth":"500m"},{"orf":65,"level":0,"depth":"500m"},{"orf":73,"level":0,"depth":"500m"},{"orf":81,"level":0,"depth":"500m"},{"orf":89,"level":0,"depth":"500m"},{"orf":97,"level":0,"depth":"500m"},{"orf":105,"level":0,"depth":"500m"},{"orf":113,"level":0,"depth":"500m"},{"orf":121,"level":0,"depth":"500m"},{"orf":129,"level":0,"depth":"500m"},{"orf":137,"level":0,"depth":"500m"},{"orf":145,"level":0,"depth":"500m"},{"orf":153,"level":0,"depth":"500m"},{"orf":161,"level":0,"depth":"500m"},{"orf":169,"level":0,"depth":"500m"},{"orf":177,"level":0,"depth":"500m"},{"orf":185,"level":0,"depth":"500m"},{"orf":193,"level":0,"depth":"500m"},{"orf":201,"level":0,"depth":"500m"},{"orf":209,"level":0,"depth":"500m"},{"orf":217,"level":0,"depth":"500m"},{"orf":225,"level":0,"depth":"500m"},{"orf":233,"level":0,"depth":"500m"},{"orf":241,"level":0,"depth":"500m"},{"orf":249,"level":0,"depth":"500m"},{"orf":257,"level":0,"depth":"500m"},{"orf":265,"level":0,"depth":"500m"},{"orf":273,"level":0,"depth":"500m"},{"orf":281,"level":0,"depth":"500m"},{"orf":289,"level":0,"depth":"500m"},{"orf":297,"level":0,"depth":"500m"},{"orf":305,"level":0,"depth":"500m"},{"orf":313,"level":0,"depth":"500m"},{"orf":321,"level":0,"depth":"500m"},{"orf":329,"level":0,"depth":"500m"},{"orf":337,"level":0,"depth":"500m"},{"orf":345,"level":0,"depth":"500m"},{"orf":353,"level":0,"depth":"500m"},{"orf":361,"level":0,"depth":"500m"},{"orf":369,"level":0,"depth":"500m"},{"orf":377,"level":0,"depth":"500m"},{"orf":385,"level":0,"depth":"500m"},{"orf":393,"level":0,"depth":"500m"},{"orf":401,"level":0,"depth":"500m"},{"orf":409,"level":0,"depth":"500m"},{"orf":417,"level":0,"depth":"500m"},{"orf":425,"level":0,"depth":"500m"},{"orf":433,"level":0,"depth":"500m"},{"orf":441,"level":0,"depth":"500m"},{"orf":449,"level":0,"depth":"500m"},{"orf":457,"level":0,"depth":"500m"},{"orf":465,"level":0,"depth":"500m"},{"orf":473,"level":0,"depth":"500m"},{"orf":481,"level":0,"depth":"500m"},{"orf":489,"level":0,"depth":"500m"},{"orf":497,"level":0,"depth":"500m"},{"orf":505,"level":0,"depth":"500m"},{"orf":513,"level":0,"depth":"500m"},{"orf":521,"level":0,"depth":"500m"},{"orf":529,"level":0,"depth":"500m"},{"orf":537,"level":0,"depth":"500m"},{"orf":545,"level":0,"depth":"500m"},{"orf":553,"level":0,"depth":"500m"},{"orf":561,"level":0,"depth":"500m"},{"orf":569,"level":0,"depth":"500m"},{"orf":577,"level":0,"depth":"500m"},{"orf":585,"level":0,"depth":"500m"},{"orf":593,"level":0,"depth":"500m"},{"orf":601,"level":0,"depth":"500m"},{"orf":609,"level":0,"depth":"500m"},{"orf":617,"level":0,"depth":"500m"},{"orf":625,"level":0,"depth":"500m"},{"orf":633,"level":0,"depth":"500m"},{"orf":641,"level":0,"depth":"500m"},{"orf":649,"level":0,"depth":"500m"},{"orf":657,"level":0,"depth":"500m"},{"orf":665,"level":0,"depth":"500m"},{"orf":673,"level":0,"depth":"500m"},{"orf":681,"level":0,"depth":"500m"},{"orf":689,"level":0,"depth":"500m"},{"orf":697,"level":0,"depth":"500m"},{"orf":705,"level":0,"depth":"500m"},{"orf":713,"level":0,"depth":"500m"},{"orf":721,"level":0,"depth":"500m"},{"orf":729,"level":0,"depth":"500m"},{"orf":737,"level":0,"depth":"500m"},{"orf":745,"level":0,"depth":"500m"},{"orf":753,"level":0,"depth":"500m"},{"orf":761,"level":0,"depth":"500m"},{"orf":769,"level":0,"depth":"500m"},{"orf":777,"level":0,"depth":"500m"},{"orf":809,"level":0,"depth":"500m"},{"orf":817,"level":0,"depth":"500m"},{"orf":825,"level":0,"depth":"500m"},{"orf":833,"level":0,"depth":"500m"},{"orf":841,"level":0,"depth":"500m"},{"orf":849,"level":0,"depth":"500m"},{"orf":857,"level":0,"depth":"500m"},{"orf":865,"level":0,"depth":"500m"},{"orf":873,"level":0,"depth":"500m"},{"orf":881,"level":0,"depth":"500m"},{"orf":889,"level":0,"depth":"500m"},{"orf":897,"level":0,"depth":"500m"},{"orf":905,"level":0,"depth":"500m"},{"orf":913,"level":0,"depth":"500m"},{"orf":921,"level":0,"depth":"500m"},{"orf":929,"level":0,"depth":"500m"},{"orf":937,"level":0,"depth":"500m"},{"orf":945,"level":0,"depth":"500m"},{"orf":953,"level":0,"depth":"500m"},{"orf":961,"level":0,"depth":"500m"},{"orf":969,"level":0,"depth":"500m"},{"orf":985,"level":0,"depth":"500m"},{"orf":993,"level":0,"depth":"500m"},{"orf":1001,"level":0,"depth":"500m"},{"orf":1009,"level":0,"depth":"500m"},{"orf":1025,"level":0,"depth":"500m"},{"orf":1033,"level":0,"depth":"500m"},{"orf":1041,"level":0,"depth":"500m"},{"orf":1049,"level":0,"depth":"500m"},{"orf":1057,"level":0,"depth":"500m"},{"orf":1065,"level":0,"depth":"500m"},{"orf":1073,"level":0,"depth":"500m"},{"orf":1081,"level":0,"depth":"500m"},{"orf":1089,"level":0,"depth":"500m"},{"orf":1097,"level":0,"depth":"500m"},{"orf":1105,"level":0,"depth":"500m"},{"orf":1113,"level":0,"depth":"500m"},{"orf":1121,"level":0,"depth":"500m"},{"orf":1129,"level":0,"depth":"500m"},{"orf":1137,"level":0,"depth":"500m"},{"orf":1145,"level":0,"depth":"500m"},{"orf":1153,"level":0,"depth":"500m"},{"orf":1161,"level":0,"depth":"500m"},{"orf":1169,"level":0,"depth":"500m"},{"orf":1177,"level":0,"depth":"500m"},{"orf":1185,"level":0,"depth":"500m"},{"orf":1193,"level":0,"depth":"500m"},{"orf":1201,"level":0,"depth":"500m"},{"orf":1209,"level":0,"depth":"500m"},{"orf":1217,"level":0,"depth":"500m"},{"orf":1225,"level":0,"depth":"500m"},{"orf":1233,"level":0,"depth":"500m"},{"orf":1241,"level":0,"depth":"500m"},{"orf":1249,"level":0,"depth":"500m"},{"orf":1257,"level":0,"depth":"500m"},{"orf":1265,"level":0,"depth":"500m"},{"orf":1273,"level":0,"depth":"500m"},{"orf":1281,"level":0,"depth":"500m"},{"orf":1289,"level":0,"depth":"500m"},{"orf":1297,"level":0,"depth":"500m"},{"orf":1305,"level":0,"depth":"500m"},{"orf":1313,"level":0,"depth":"500m"},{"orf":1321,"level":0,"depth":"500m"},{"orf":1329,"level":0,"depth":"500m"},{"orf":1337,"level":0,"depth":"500m"},{"orf":1345,"level":0,"depth":"500m"},{"orf":1353,"level":0,"depth":"500m"},{"orf":1361,"level":0,"depth":"500m"},{"orf":1369,"level":0,"depth":"500m"},{"orf":1377,"level":0,"depth":"500m"},{"orf":1385,"level":0,"depth":"500m"},{"orf":1393,"level":0,"depth":"500m"},{"orf":1401,"level":0,"depth":"500m"},{"orf":1409,"level":0,"depth":"500m"}
],
"notes":[
{"label":"hyp","orf":241,"level":28.8,"pos":"center"},
{"label":"Na+ /solute\nsymporter","orf":257,"level":21.1,"pos":"left"},
{"label":"heat shock\nprotein a","orf":353,"level":17.4,"pos":"left"},
{"label":"DctP","orf":322,"level":13.8,"pos":"center"},
{"label":"proteorhodopsin","orf":527,"level":31.1,"pos":"center"},
{"label":"hyp","orf":626,"level":28.3,"pos":"center"},
{"label":"AcDH-II","orf":636,"level":25.6,"pos":"left"},
{"label":"hyp","orf":673,"level":20.8,"pos":"center"},
{"label":"DctP","orf":547,"level":13.0,"pos":"center"},
{"label":"ribosomal protein L13","orf":869,"level":16.6,"pos":"center"},
{"label":"extracellular\nsolute-binding,\nfamily 3","orf":936,"level":24.9,"pos":"left"},
{"label":"extracellular\nsolute-binding,\nfamily 7","orf":1033,"level":19.6,"pos":"left"},
{"label":"selenium binding protein","orf":1055,"level":29.1,"pos":"center"},
{"label":"hyp","orf":1235,"level":23.6,"pos":"center"},
{"label":"extracellular\nsolute-binding\nfamily 1","orf":1033,"level":43.9,"pos":"left"},
{"label":"spermidine\nputrescine\nbinding protein","orf":1229,"level":43.0,"pos":"left"},
{"label":"pilin","orf":1337,"level":14.5,"pos":"center"}
],
"leaders":[
{"x1":281,"y1":17.0,"x2":249,"y2":11.7},
{"x1":408,"y1":14.8,"x2":379,"y2":13.4},
{"x1":318,"y1":12.6,"x2":299,"y2":11.3},
{"x1":666,"y1":24.3,"x2":644,"y2":23.3},
{"x1":884,"y1":14.3,"x2":906,"y2":13.5},
{"x1":981,"y1":20.0,"x2":1010,"y2":16.7},
{"x1":1164,"y1":28.0,"x2":1170,"y2":13.7}
]
},
"resolve":{"axis":{"x":"independent","y":"independent"}},
"layer":[
{"data":{"name":"stems"},
 "mark":{"type":"rule","strokeWidth":1.8},
 "encoding":{
  "x":{"field":"orf","type":"quantitative","scale":{"domain":[0,1417],"nice":false,"zero":false},
       "axis":{"values":[0,200,400,600,800,1000,1200,1400],"format":"d","title":"ORF numbers along the genome of the Pelagibacter strian HTCC7211","labelPadding":10,"titlePadding":8,"labelFlush":false}},
  "y":{"field":"level","type":"quantitative","scale":{"domain":[0,45],"nice":false},
       "axis":{"values":[0,5,10,15,20,25,30,35,40,45],"format":"d","title":"Normalized expression level","labelPadding":10,"titlePadding":12}},
  "y2":{"datum":0},
  "color":{"field":"depth","type":"nominal","scale":{"domain":["25m","75m","125m","500m"],"range":["#3d3a7a","#3d82c4","#ef9430","#7c2e2b"]},
   "legend":{"title":null,"orient":"none","legendX":27,"legendY":20,"symbolType":"M-1,0L4.6,0M6.6,0A1,1,0,1,1,4.6,0A1,1,0,1,1,6.6,0","symbolSize":100,"symbolStrokeWidth":1.5,"symbolFillColor":"transparent","labelFont":"Liberation Sans","labelFontSize":16,"labelColor":"black","labelOffset":45,"strokeColor":"black","fillColor":"white","padding":12,"rowPadding":6}}
 }},
{"data":{"name":"stems"},
 "mark":{"type":"point","shape":"circle","filled":false,"size":80,"strokeWidth":1.6,"opacity":1},
 "encoding":{
  "x":{"field":"orf","type":"quantitative","scale":{"domain":[0,1417],"nice":false,"zero":false},"axis":null},
  "y":{"field":"level","type":"quantitative","scale":{"domain":[0,45],"nice":false},"axis":null},
  "color":{"field":"depth","type":"nominal","scale":{"domain":["25m","75m","125m","500m"],"range":["#3d3a7a","#3d82c4","#ef9430","#7c2e2b"]}}
 }},
{"data":{"name":"leaders"},
 "mark":{"type":"rule","strokeWidth":1,"color":"#666666"},
 "encoding":{
  "x":{"field":"x1","type":"quantitative","scale":{"domain":[0,1417],"nice":false,"zero":false},
       "axis":{"orient":"top","values":[200,400,600,800,1000,1200,1400],"labels":false,"ticks":true,"tickSize":-6,"title":null,"domain":false}},
  "y":{"field":"y1","type":"quantitative","scale":{"domain":[0,45],"nice":false},
       "axis":{"orient":"right","values":[5,10,15,20,25,30,35,40],"labels":false,"ticks":true,"tickSize":-6,"title":null,"domain":false}},
  "x2":{"field":"x2"},
  "y2":{"field":"y2"}
 }},
{"data":{"name":"notes"},
 "transform":[{"filter":"datum.pos === 'left'"}],
 "mark":{"type":"text","align":"left","baseline":"top","lineBreak":"\n","font":"DejaVu Sans","fontSize":15,"lineHeight":19,"color":"#222222"},
 "encoding":{
  "x":{"field":"orf","type":"quantitative","scale":{"domain":[0,1417],"nice":false,"zero":false},"axis":null},
  "y":{"field":"level","type":"quantitative","scale":{"domain":[0,45],"nice":false},"axis":null},
  "text":{"field":"label"}
 }},
{"data":{"name":"notes"},
 "transform":[{"filter":"datum.pos === 'center'"}],
 "mark":{"type":"text","align":"center","baseline":"top","lineBreak":"\n","font":"DejaVu Sans","fontSize":15,"lineHeight":19,"color":"#222222"},
 "encoding":{
  "x":{"field":"orf","type":"quantitative","scale":{"domain":[0,1417],"nice":false,"zero":false},"axis":null},
  "y":{"field":"level","type":"quantitative","scale":{"domain":[0,45],"nice":false},"axis":null},
  "text":{"field":"label"}
 }}
]
}
